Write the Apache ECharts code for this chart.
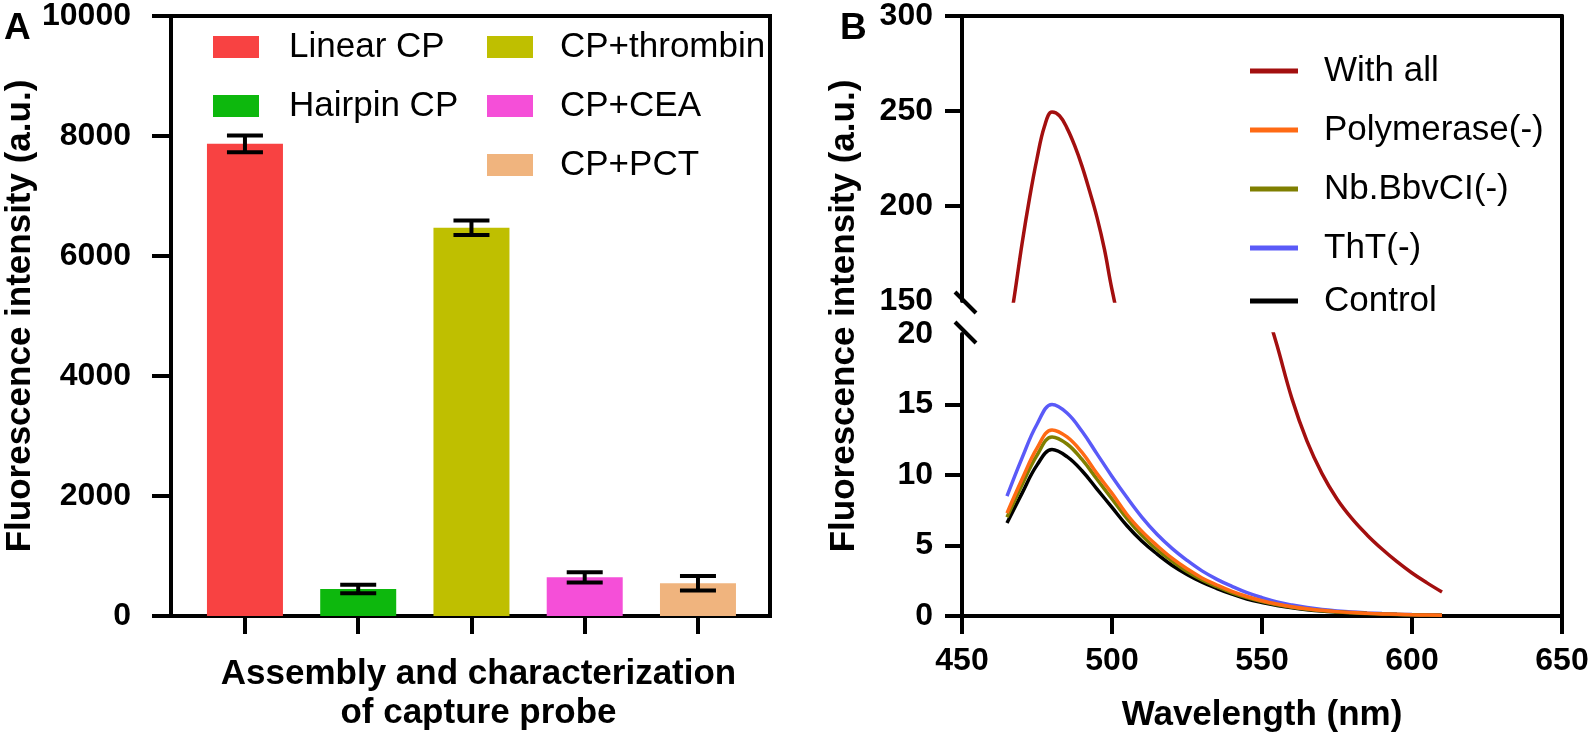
<!DOCTYPE html>
<html><head><meta charset="utf-8">
<script src="https://cdn.jsdelivr.net/npm/echarts@6/dist/echarts.min.js"></script>
<style>html,body{margin:0;padding:0;background:#fff}#c{width:1594px;height:738px}</style>
</head><body><div id="c"></div>
<script>
// ---------- Panel A data ----------
const categories = ['Linear CP', 'Hairpin CP', 'CP+thrombin', 'CP+CEA', 'CP+PCT'];
const barValues  = [7870, 450, 6470, 645, 545];
const barErrors  = [140, 70, 120, 85, 120];
const barColors  = ['#F84242', '#0DB80D', '#BFBF00', '#F54FD8', '#F0B47E'];
const yTicksA    = [0, 2000, 4000, 6000, 8000, 10000];

// ---------- Panel B data ----------
const wavelengths = [465,470,475,480,485,490,495,500,505,510,515,520,525,530,535,540,545,550,555,560,565,570,575,580,585,590,595,600,605,610];
const controlY = [6.6,8.7,10.7,11.8,11.3,10.3,9.0,7.7,6.4,5.3,4.4,3.6,2.95,2.4,1.95,1.55,1.2,0.95,0.75,0.58,0.45,0.35,0.28,0.22,0.17,0.13,0.1,0.08,0.06,0.05];
const thtY     = [8.5,11.2,13.6,15.0,14.4,13.1,11.5,9.9,8.4,7.0,5.8,4.8,3.95,3.2,2.6,2.1,1.65,1.3,1.0,0.78,0.6,0.46,0.36,0.28,0.22,0.17,0.13,0.1,0.08,0.06];
const polyY    = [7.3,9.7,11.9,13.2,12.7,11.6,10.1,8.7,7.2,6.0,5.0,4.1,3.35,2.7,2.2,1.75,1.38,1.08,0.85,0.66,0.51,0.4,0.31,0.24,0.19,0.15,0.12,0.09,0.07,0.06];
const nbY      = [7.0,9.3,11.4,12.7,12.2,11.1,9.7,8.3,6.9,5.7,4.7,3.9,3.15,2.55,2.08,1.65,1.3,1.02,0.8,0.62,0.48,0.37,0.29,0.23,0.18,0.14,0.11,0.085,0.065,0.05];
const withAllX = [465,467.5,470,472.5,475,477.5,480,482.5,485,487.5,490,492.5,495,497.5,500,505,510,515,520,525,530,535,540,545,550,555,560,565,570,575,580,585,590,595,600,605,610];
const withAllY = [128,153,180,204,225,242,249.5,247.5,241,232,221,208,194,177,156,121,97,78,63,51,42,35.5,30.5,26.6,22.8,19.2,15.4,12.4,10.1,8.3,6.9,5.75,4.75,3.85,3.05,2.35,1.7];
const xTicksB      = [450, 500, 550, 600, 650];
const yTicksBLow   = [0, 5, 10, 15];
const yTicksBHigh  = [200, 250, 300];

const seriesB = [
  {name: 'With all', color: '#A30F0F', y: withAllY, x: withAllX},
  {name: 'ThT(-)', color: '#5A5AF8', y: thtY, x: wavelengths},
  {name: 'Control', color: '#000000', y: controlY, x: wavelengths},
  {name: 'Nb.BbvCI(-)', color: '#7F7F00', y: nbY, x: wavelengths},
  {name: 'Polymerase(-)', color: '#FF6A14', y: polyY, x: wavelengths}
];

const FONT = '"Liberation Sans", Arial, Helvetica, sans-serif';
const BLACK = '#000';
const AXW = 4;
const plain = v => String(v);
const tickLabel = {color: BLACK, fontSize: 32, fontWeight: 'bold', fontFamily: FONT, formatter: plain};
const titleText = {color: BLACK, fontSize: 35, fontWeight: 'bold', fontFamily: FONT, lineHeight: 39};
const legText = {color: BLACK, fontSize: 35, fontFamily: FONT, lineHeight: 36};

const chart = echarts.init(document.getElementById('c'), null, {renderer: 'canvas'});

const series = [];
categories.forEach((c, i) => {
  series.push({
    type: 'custom', name: c, xAxisIndex: 0, yAxisIndex: 0, silent: true,
    itemStyle: {color: barColors[i]},
    data: [[i, barValues[i]]],
    renderItem: function (params, api) {
      const top = api.coord([api.value(0), api.value(1)]);
      const base = api.coord([api.value(0), 0]);
      const w = 76;
      return {type: 'rect', shape: {x: top[0] - w / 2, y: top[1], width: w, height: base[1] - top[1]},
        style: {fill: barColors[i]}};
    }
  });
});
series.push({
  type: 'custom', name: 'err', xAxisIndex: 0, yAxisIndex: 0, z: 10, silent: true,
  data: categories.map((c, i) => [i, barValues[i] - barErrors[i], barValues[i] + barErrors[i]]),
  renderItem: function (params, api) {
    const x = api.value(0);
    const lo = api.coord([x, api.value(1)]);
    const hi = api.coord([x, api.value(2)]);
    const hw = 18;
    const st = {stroke: BLACK, lineWidth: 4};
    return {type: 'group', children: [
      {type: 'line', shape: {x1: lo[0], y1: lo[1], x2: hi[0], y2: hi[1]}, style: st},
      {type: 'line', shape: {x1: hi[0] - hw, y1: hi[1], x2: hi[0] + hw, y2: hi[1]}, style: st},
      {type: 'line', shape: {x1: lo[0] - hw, y1: lo[1], x2: lo[0] + hw, y2: lo[1]}, style: st}
    ]};
  }
});
seriesB.forEach(s => {
  const data = s.x.map((w, i) => [w, s.y[i]]);
  const base = {type: 'line', name: s.name, showSymbol: false, symbol: 'none', smooth: 0.4,
    lineStyle: {width: 3.5, color: s.color}, itemStyle: {color: s.color}, data: data, silent: true, clip: true};
  series.push(Object.assign({}, base, {xAxisIndex: 3, yAxisIndex: 4}));
  if (s.name === 'With all') series.push(Object.assign({}, base, {xAxisIndex: 2, yAxisIndex: 3}));
});

const axLine = {show: true, onZero: false, lineStyle: {color: BLACK, width: AXW}};
const legendBase = {orient: 'vertical', padding: 0, icon: 'rect', selectedMode: false, itemGap: 23};
const gridBase = {containLabel: false, outerBoundsMode: 'none'};

const option = {
  animation: false,
  backgroundColor: '#fff',
  title: [
    {text: 'A', left: 4, top: 10, padding: 0, textStyle: {color: BLACK, fontSize: 37, fontWeight: 'bold', fontFamily: FONT}},
    {text: 'B', left: 840, top: 10, padding: 0, textStyle: {color: BLACK, fontSize: 37, fontWeight: 'bold', fontFamily: FONT}}
  ],
  grid: [
    Object.assign({left: 171, top: 16, width: 599, height: 600, show: true, borderColor: BLACK, borderWidth: AXW, backgroundColor: 'transparent'}, gridBase),
    Object.assign({left: 962, top: 16, width: 600, height: 600}, gridBase),
    Object.assign({left: 962, top: 16, width: 600, height: 285}, gridBase),
    Object.assign({left: 962, top: 334, width: 600, height: 282}, gridBase)
  ],
  xAxis: [
    {gridIndex: 0, type: 'value', min: -0.653, max: 4.636,
      axisLine: axLine, splitLine: {show: false},
      axisTick: {show: true, customValues: [0, 1, 2, 3, 4], length: 18, lineStyle: {color: BLACK, width: AXW}},
      axisLabel: {show: false}, nameMoveOverlap: false,
      name: 'Assembly and characterization\nof capture probe', nameLocation: 'middle', nameGap: 39,
      nameTextStyle: Object.assign({padding: [0, 0, 0, 16]}, titleText)},
    {gridIndex: 1, type: 'value', position: 'top', min: 450, max: 650,
      axisLine: axLine, axisTick: {show: false}, axisLabel: {show: false}, splitLine: {show: false}},
    {gridIndex: 2, type: 'value', min: 450, max: 650, show: false},
    {gridIndex: 3, type: 'value', min: 450, max: 650, interval: 50,
      axisLine: axLine, splitLine: {show: false},
      axisTick: {show: true, length: 18, lineStyle: {color: BLACK, width: AXW}},
      axisLabel: Object.assign({margin: 29}, tickLabel), nameMoveOverlap: false,
      name: 'Wavelength (nm)', nameLocation: 'middle', nameGap: 80, nameTextStyle: titleText}
  ],
  yAxis: [
    {gridIndex: 0, type: 'value', min: 0, max: 10000, interval: 2000,
      axisLine: axLine, splitLine: {show: false},
      axisTick: {show: true, length: 19, lineStyle: {color: BLACK, width: AXW}},
      axisLabel: Object.assign({margin: 40}, tickLabel), nameMoveOverlap: false,
      name: 'Fluorescence intensity (a.u.)', nameLocation: 'middle', nameGap: 131, nameTextStyle: titleText},
    {gridIndex: 1, type: 'value', position: 'right', min: 0, max: 1,
      axisLine: axLine, axisTick: {show: false}, axisLabel: {show: false}, splitLine: {show: false}},
    {gridIndex: 1, type: 'value', position: 'left', min: 0, max: 1, nameMoveOverlap: false,
      axisLine: {show: false}, axisTick: {show: false}, axisLabel: {show: false}, splitLine: {show: false},
      name: 'Fluorescence intensity (a.u.)', nameLocation: 'middle', nameGap: 98, nameTextStyle: titleText},
    {gridIndex: 2, type: 'value', min: 150, max: 300, interval: 50,
      axisLine: axLine, splitLine: {show: false},
      axisTick: {show: true, customValues: yTicksBHigh, length: 17, lineStyle: {color: BLACK, width: AXW}},
      axisLabel: Object.assign({margin: 29}, tickLabel)},
    {gridIndex: 3, type: 'value', min: 0, max: 20, interval: 5,
      axisLine: axLine, splitLine: {show: false},
      axisTick: {show: true, customValues: yTicksBLow, length: 17, lineStyle: {color: BLACK, width: AXW}},
      axisLabel: Object.assign({margin: 29}, tickLabel)}
  ],
  legend: [
    Object.assign({}, legendBase, {data: ['Linear CP', 'Hairpin CP'], left: 213, top: 29, itemWidth: 46, itemHeight: 22,
      textStyle: Object.assign({padding: [0, 0, 0, 25]}, legText)}),
    Object.assign({}, legendBase, {data: ['CP+thrombin', 'CP+CEA', 'CP+PCT'], left: 487, top: 29, itemWidth: 46, itemHeight: 22,
      textStyle: Object.assign({padding: [0, 0, 0, 22]}, legText)}),
    Object.assign({}, legendBase, {data: ['With all', 'Polymerase(-)', 'Nb.BbvCI(-)', 'ThT(-)'], left: 1250, top: 53, itemWidth: 48, itemHeight: 5,
      textStyle: Object.assign({padding: [0, 0, 0, 21]}, legText)}),
    Object.assign({}, legendBase, {data: ['Control'], left: 1250, top: 283, itemWidth: 48, itemHeight: 5,
      textStyle: Object.assign({padding: [0, 0, 0, 21]}, legText)})
  ],
  graphic: [
    {type: 'line', shape: {x1: 955, y1: 292, x2: 976, y2: 313}, style: {stroke: BLACK, lineWidth: 4}, z: 100},
    {type: 'line', shape: {x1: 955, y1: 322, x2: 976, y2: 343}, style: {stroke: BLACK, lineWidth: 4}, z: 100}
  ],
  series: series
};
chart.setOption(option);
</script>
</body></html>
